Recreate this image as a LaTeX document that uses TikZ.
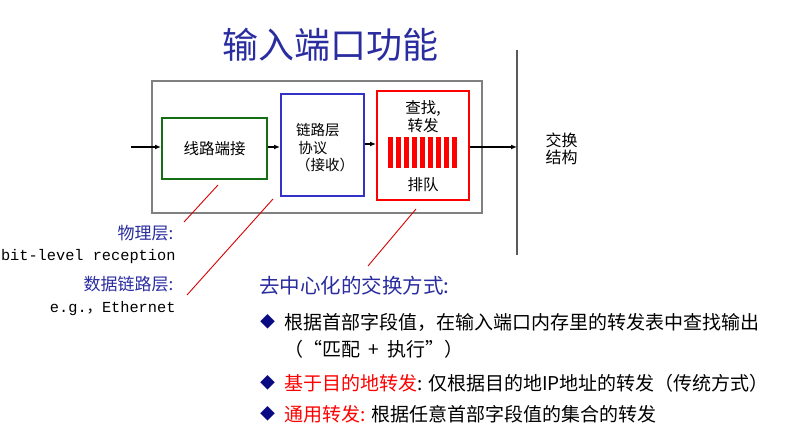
\documentclass[tikz,border=0pt]{standalone}
\usepackage{fontspec}
\setmainfont{Noto Sans CJK SC}
\newfontfamily\monof{Liberation Mono}
\usetikzlibrary{arrows.meta}
\definecolor{ttlblue}{RGB}{42,45,160}
\definecolor{boxgreen}{RGB}{20,110,20}
\definecolor{boxblue}{RGB}{50,50,200}
\definecolor{navy}{RGB}{10,10,130}
\tikzset{
  flow/.style={-{Latex[length=6pt,width=5pt]}, line width=1.5pt, black},
  leader/.style={red!85!black, line width=0.9pt},
  fs/.style={font=\fontsize{#1}{#1}\selectfont},
  bar/.style={fill=red, draw=none}
}
\begin{document}
\begin{tikzpicture}[x=1pt,y=-1pt]
\useasboundingbox (0,0) rectangle (804,435);
\fill[white] (0,0) rectangle (804,435);
% title
\node[fs=36, text=ttlblue] (title) at (330,45) {输入端口功能};
% outer box
\node[draw=gray, line width=1.5pt, minimum width=330pt, minimum height=132pt, inner sep=0pt] (outer) at (317,147) {};
% vertical line
\coordinate (vtop) at (517,50);
\coordinate (vbot) at (517,255);
\draw[line width=1.2pt, black!65] (vtop) -- (vbot);
% boxes
\node[draw=boxgreen, line width=2pt, minimum width=105pt, minimum height=61pt, inner sep=0pt, fs=15.5] (green) at (214.5,148.5) {线路端接};
\node[draw=boxblue, line width=2pt, minimum width=83pt, minimum height=102pt, inner sep=0pt] (blue) at (322.5,145) {};
\node[fs=14.5, align=left] (bluetext) at (325,148) {链路层\\[3pt]\,协议\\[3pt]（接收）};
\node[draw=red, line width=2pt, minimum width=92pt, minimum height=109pt, inner sep=0pt] (redb) at (423,145.5) {};
\node[fs=15.5, align=center] (lookup) at (423,117) {查找,\\[1pt]转发};
\node[fs=15.5] (queue) at (423,185) {排队};
\foreach \i in {0,...,8} {
  \fill[bar] (388+\i*8,137) rectangle ++(5,31);
}
% switch fabric text
\node[fs=16, align=left] (fabric) at (561.5,148.5) {交换\\[1pt]结构};
% arrows
\coordinate (in) at (131,147);
\coordinate (outend) at (517,147);
\draw[flow] (in) -- (green.west |- in);
\draw[flow] (green.east |- 0,147) -- (blue.west |- 0,147);
\draw[flow] (blue.east |- 0,144) -- (redb.west |- 0,144);
\draw[flow] (redb.east |- 0,147) -- (outend);
% left labels
\node[fs=17, text=ttlblue, anchor=east] (phy) at (177,233) {物理层:};
\node[anchor=east, font=\monof\fontsize{15.3}{16}\selectfont] (phyd) at (179,257) {bit-level reception};
\node[fs=17, text=ttlblue, anchor=east] (dl) at (177,284) {数据链路层:};
\node[anchor=east, font=\monof\fontsize{15.3}{16}\selectfont] (dld) at (179,309) {e.g.{\rmfamily ，}Ethernet};
% leader lines
\coordinate (l1a) at (218,185);
\coordinate (l1b) at (184,222);
\coordinate (l2a) at (273,199);
\coordinate (l2b) at (187,295);
\coordinate (l3a) at (416,209);
\coordinate (l3b) at (368,266);
\draw[leader] (l1a) -- (l1b);
\draw[leader] (l2a) -- (l2b);
\draw[leader] (l3a) -- (l3b);
% heading and bullets
\node[fs=20.5, text=ttlblue, anchor=west, inner sep=0pt] (head) at (259,286) {去中心化的交换方式:};
\node[fs=15, text=navy, anchor=west, inner sep=0pt] (b1) at (260,322) {◆};
\node[fs=19, anchor=west, inner sep=0pt] (t1) at (284,322) {根据首部字段值，在输入端口内存里的转发表中查找输出};
\node[fs=19, anchor=west, inner sep=0pt] (t1b) at (284,349) {（“匹配\ \ +\ \ 执行”）};
\node[fs=15, text=navy, anchor=west, inner sep=0pt] (b2) at (260,383) {◆};
\node[fs=19, anchor=west, inner sep=0pt] (t2) at (284,383) {\textcolor{red}{基于目的地转发}: 仅根据目的地IP地址的转发（传统方式）};
\node[fs=15, text=navy, anchor=west, inner sep=0pt] (b3) at (260,414) {◆};
\node[fs=19, anchor=west, inner sep=0pt] (t3) at (284,414) {\textcolor{red}{通用转发:} 根据任意首部字段值的集合的转发};
\end{tikzpicture}
\end{document}
